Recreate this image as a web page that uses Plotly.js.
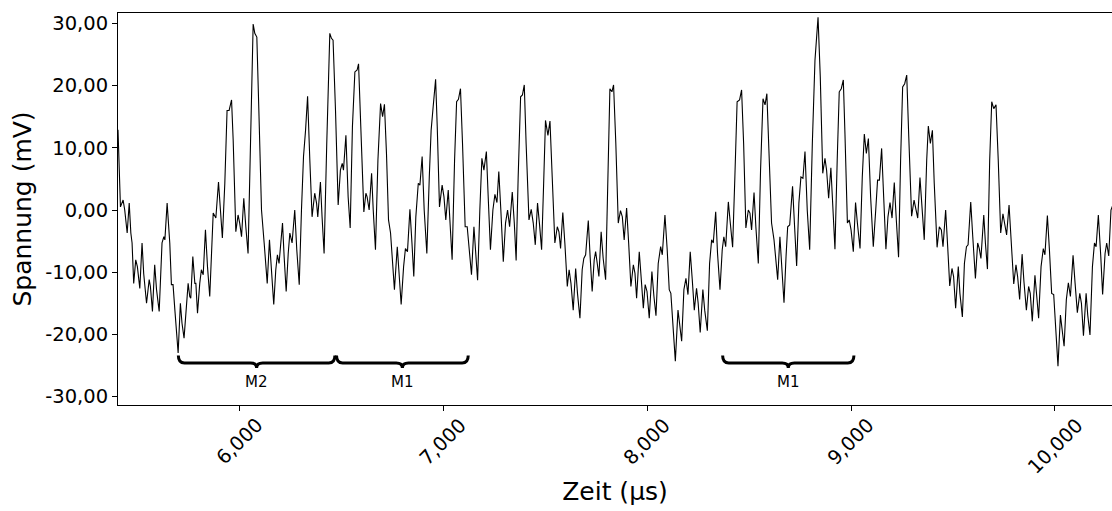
<!DOCTYPE html>
<html>
<head>
<meta charset="utf-8">
<script src="https://cdn.plot.ly/plotly-3.0.1.min.js"></script>
<style>
  html, body { margin: 0; padding: 0; background: #ffffff; }
  #chart { width: 1112px; height: 511px; }
</style>
</head>
<body>
<div id="chart"></div>
<script>
// Measured signal: time (µs) and voltage (mV)
const timeUs = [
  5404, 5416, 5429, 5437, 5449, 5459, 5467, 5473, 5481, 5491, 5499, 5511, 5522, 5530, 5544, 5557,
  5563, 5573, 5584, 5593, 5606, 5620, 5629, 5634, 5645, 5658, 5666, 5674, 5683, 5699, 5710, 5718,
  5728, 5740, 5748, 5756, 5761, 5771, 5781, 5786, 5794, 5805, 5813, 5822, 5833, 5843, 5854, 5871,
  5884, 5897, 5907, 5916, 5928, 5939, 5949, 5961, 5969, 5982, 5993, 6001, 6010, 6021, 6031, 6042,
  6054, 6067, 6075, 6085, 6095, 6108, 6121, 6136, 6147, 6157, 6168, 6178, 6186, 6194, 6201, 6211,
  6219, 6229, 6239, 6247, 6258, 6271, 6281, 6293, 6304, 6314, 6324, 6334, 6345, 6356, 6369, 6378,
  6384, 6397, 6405, 6415, 6428, 6443, 6451, 6459, 6471, 6484, 6495, 6504, 6510, 6522, 6533, 6543,
  6554, 6566, 6577, 6584, 6595, 6610, 6620, 6626, 6636, 6648, 6656, 6667, 6679, 6692, 6702, 6711,
  6721, 6731, 6741, 6751, 6760, 6774, 6783, 6793, 6805, 6814, 6824, 6836, 6846, 6855, 6865, 6877,
  6885, 6896, 6906, 6919, 6931, 6940, 6950, 6962, 6970, 6981, 6994, 7003, 7012, 7024, 7032, 7043,
  7055, 7065, 7074, 7084, 7094, 7107, 7117, 7127, 7138, 7150, 7158, 7168, 7179, 7189, 7199, 7211,
  7220, 7231, 7243, 7253, 7263, 7272, 7282, 7294, 7305, 7315, 7325, 7338, 7348, 7357, 7367, 7379,
  7388, 7397, 7406, 7420, 7431, 7441, 7451, 7462, 7472, 7482, 7492, 7501, 7513, 7523, 7534, 7547,
  7559, 7567, 7575, 7586, 7596, 7608, 7617, 7626, 7637, 7649, 7658, 7670, 7681, 7689, 7698, 7711,
  7720, 7730, 7740, 7747, 7755, 7763, 7774, 7784, 7796, 7809, 7817, 7827, 7835, 7846, 7858, 7869,
  7878, 7887, 7899, 7909, 7920, 7932, 7940, 7948, 7961, 7971, 7981, 7990, 7999, 8010, 8023, 8033,
  8043, 8054, 8066, 8074, 8087, 8098, 8108, 8116, 8128, 8138, 8151, 8161, 8169, 8180, 8190, 8200,
  8211, 8221, 8231, 8242, 8250, 8260, 8273, 8282, 8295, 8306, 8316, 8324, 8336, 8345, 8357, 8368,
  8376, 8385, 8398, 8407, 8419, 8430, 8441, 8453, 8463, 8473, 8484, 8496, 8504, 8512, 8524, 8533,
  8545, 8556, 8568, 8578, 8587, 8597, 8610, 8622, 8630, 8640, 8651, 8661, 8671, 8681, 8689, 8699,
  8713, 8723, 8733, 8744, 8754, 8764, 8774, 8785, 8797, 8810, 8823, 8838, 8849, 8861, 8872, 8880,
  8890, 8901, 8911, 8921, 8932, 8942, 8952, 8962, 8970, 8982, 8991, 9000, 9011, 9022, 9031, 9044,
  9055, 9065, 9075, 9085, 9096, 9109, 9121, 9130, 9139, 9150, 9160, 9171, 9181, 9191, 9201, 9212,
  9222, 9233, 9243, 9253, 9263, 9273, 9283, 9297, 9309, 9317, 9327, 9338, 9348, 9359, 9371, 9379,
  9389, 9399, 9408, 9422, 9433, 9443, 9451, 9464, 9474, 9484, 9495, 9503, 9513, 9526, 9534, 9546,
  9556, 9566, 9574, 9587, 9597, 9610, 9621, 9629, 9637, 9651, 9659, 9669, 9680, 9690, 9700, 9711,
  9722, 9734, 9745, 9755, 9763, 9775, 9785, 9798, 9809, 9817, 9827, 9839, 9848, 9860, 9871, 9879,
  9889, 9902, 9911, 9920, 9932, 9943, 9951, 9963, 9973, 9984, 9994, 10004, 10015, 10027, 10037, 10045,
  10056, 10066, 10076, 10089, 10099, 10110, 10122, 10130, 10140, 10153, 10161, 10172, 10184, 10194, 10202, 10213,
  10225, 10234, 10246, 10254, 10264, 10275, 10282
];
const voltageMv = [
  12.9, 0.5, 1.6, 0.0, -3.7, 1.1, -3.7, -5.3, -11.8, -8.0, -9.1, -12.6, -5.3, -10.2, -15.0, -11.2,
  -12.3, -16.3, -8.8, -12.8, -16.3, -5.3, -4.3, -4.8, 1.1, -5.3, -12.0, -12.0, -16.1, -23.0, -15.0, -18.2,
  -20.6, -15.0, -11.8, -13.9, -14.2, -7.5, -11.8, -11.8, -16.6, -11.8, -9.6, -10.4, -3.2, -9.1, -13.9, -0.5,
  -1.3, 4.5, 0.5, -4.5, 4.3, 16.0, 16.0, 17.7, 11.2, -3.5, -0.8, -2.1, -4.3, 1.9, -2.7, -7.0,
  10.7, 29.9, 28.4, 27.8, 16.0, 0.0, -5.3, -11.8, -4.8, -10.2, -15.2, -9.6, -7.2, -8.6, -6.4, -2.1,
  -7.5, -13.1, -7.0, -3.7, -5.3, 0.0, -6.4, -12.0, 0.0, 8.6, 12.8, 18.3, 8.0, -1.1, 2.7, 1.1,
  -1.1, 4.5, -1.1, -7.0, 10.7, 28.4, 27.6, 27.3, 16.0, 0.8, 6.4, 7.5, 6.4, 12.0, 2.1, -2.9,
  13.4, 22.2, 22.5, 23.5, 13.4, -0.3, 2.7, 2.1, 0.0, 5.9, 0.0, -6.4, 8.0, 17.1, 15.0, 17.0,
  9.1, -1.6, -3.7, -8.0, -12.8, -5.9, -10.7, -15.2, -9.1, -6.2, -6.7, 0.1, -5.3, -10.7, -1.1, 4.3,
  4.0, 8.6, 0.0, -7.0, 5.3, 12.8, 16.6, 21.0, 13.4, 0.5, 4.0, 2.1, -1.6, 3.2, -1.6, -8.0,
  8.0, 17.4, 17.8, 19.5, 10.7, -2.7, -2.7, -6.4, -10.4, -2.7, -7.5, -11.3, 0.0, 8.3, 6.4, 9.4,
  2.1, -6.4, 0.0, 2.5, 1.2, 6.2, 0.0, -8.3, -2.1, 0.0, -2.7, 2.9, -2.1, -8.1, 5.3, 18.2,
  18.5, 20.1, 10.7, -1.6, 0.1, -2.1, -5.6, 1.1, -2.4, -6.4, 4.3, 14.4, 12.0, 14.3, 5.3, -5.3,
  -2.7, -3.5, -6.2, -0.4, -5.3, -12.3, -9.6, -11.8, -16.1, -9.4, -13.4, -17.4, -9.6, -7.8, -7.2, -1.7,
  -7.5, -13.1, -8.0, -6.7, -8.6, -10.7, -3.5, -7.8, -11.2, 5.3, 19.5, 19.0, 20.1, 10.7, -2.1, -0.1,
  -1.1, -4.8, 0.3, -5.3, -12.3, -8.8, -10.2, -14.2, -6.7, -11.2, -15.8, -12.0, -13.1, -17.4, -9.9, -13.9,
  -17.0, -8.6, -5.9, -7.2, -0.8, -6.4, -12.8, -13.4, -18.7, -24.3, -16.1, -18.7, -21.1, -12.8, -11.0, -13.6,
  -6.7, -11.2, -16.1, -12.6, -15.0, -19.7, -12.8, -16.1, -19.4, -8.6, -4.8, -5.3, -0.3, -7.0, -12.8, -6.4,
  -4.3, -5.9, 1.3, -1.9, -6.0, 5.3, 17.4, 17.7, 19.3, 10.7, -2.9, 0.0, -0.5, -3.2, 2.8, -2.7,
  -8.6, 6.4, 17.9, 16.9, 18.7, 9.6, -2.1, -4.8, -8.0, -11.2, -4.3, -10.2, -14.9, -7.5, -2.7, -2.4,
  3.8, -2.7, -9.0, 1.1, 5.3, 5.1, 9.4, 0.0, -6.4, 10.7, 24.1, 31.0, 21.4, 5.9, 8.3, 6.4,
  1.9, 6.8, 0.0, -6.3, 8.0, 19.0, 19.5, 20.9, 12.3, -2.1, -1.6, -3.2, -6.7, 1.2, -2.1, -6.2,
  5.3, 12.2, 9.1, 11.5, 2.1, -5.9, 0.0, 4.8, 4.8, 9.9, 2.1, -6.3, -1.1, 1.2, -1.3, 4.4,
  -1.6, -7.6, 8.0, 19.8, 20.3, 21.7, 11.8, -1.0, 1.6, 0.5, -1.3, 5.2, 0.0, -4.8, 8.0, 13.5,
  10.7, 12.8, 4.3, -6.0, -2.7, -3.2, -5.9, 0.0, -5.9, -12.2, -9.4, -10.7, -15.8, -9.1, -13.4, -17.2,
  -8.6, -5.9, -5.6, 1.3, -4.3, -11.0, -5.3, -6.2, -7.8, -0.8, -5.3, -9.5, 8.0, 17.4, 16.3, 16.9,
  8.0, -3.7, -0.6, -2.7, -4.0, 0.8, -4.8, -11.9, -8.8, -10.7, -14.4, -7.1, -11.5, -16.1, -12.3, -13.4,
  -17.9, -10.5, -13.9, -17.4, -9.1, -6.2, -7.2, -0.9, -6.4, -13.4, -13.6, -18.7, -25.1, -16.9, -19.5, -21.9,
  -14.4, -11.7, -13.9, -7.3, -11.8, -16.5, -13.4, -15.0, -20.2, -13.4, -16.9, -20.1, -9.1, -5.3, -5.9, -0.8,
  -7.5, -13.6, -7.0, -5.3, -7.4, 0.0, 0.6
];

// Axis ticks
const xTickVals = [6000, 7000, 8000, 9000, 10000];
const xTickText = ['6,000', '7,000', '8,000', '9,000', '10,000'];
const yTickVals = [-30, -20, -10, 0, 10, 20, 30];
const yTickText = ['-30,00', '-20,00', '-10,00', '0,00', '10,00', '20,00', '30,00'];

// Marked segments (µs) shown with braces under the trace
const braceStart = [5700, 6476, 8370];
const braceEnd = [6468, 7122, 9014];
const braceLabel = ['M2', 'M1', 'M1'];

const FONT = 'DejaVu Sans, sans-serif';

// Brace geometry (data units)
const yTop = -23.4, yLine = -24.6, yTip = -25.4, curl = 30;

function bracePath(x0, x1) {
  const xc = (x0 + x1) / 2;
  return `M${x0},${yTop} Q${x0},${yLine} ${x0 + curl},${yLine} ` +
         `L${xc - curl},${yLine} Q${xc},${yLine} ${xc},${yTip} ` +
         `Q${xc},${yLine} ${xc + curl},${yLine} ` +
         `L${x1 - curl},${yLine} Q${x1},${yLine} ${x1},${yTop}`;
}

const shapes = braceStart.map((s, i) => ({
  type: 'path',
  xref: 'x', yref: 'y',
  path: bracePath(s, braceEnd[i]),
  line: { color: '#000000', width: 3 }
}));

const annotations = braceStart.map((s, i) => ({
  x: (s + braceEnd[i]) / 2, y: -27.7,
  xref: 'x', yref: 'y',
  text: braceLabel[i], showarrow: false,
  xanchor: 'center', yanchor: 'middle',
  font: { family: FONT, size: 15, color: '#000000' }
}));

// Rotated x tick labels, centred under each tick
xTickVals.forEach((v, i) => {
  annotations.push({
    x: v, y: 0, xref: 'x', yref: 'paper',
    text: xTickText[i], showarrow: false,
    textangle: -45,
    xanchor: 'center', yanchor: 'top', yshift: -6,
    font: { family: FONT, size: 19.5, color: '#000000' }
  });
});

const trace = {
  x: timeUs, y: voltageMv,
  type: 'scatter', mode: 'lines',
  line: { color: '#000000', width: 1.1 },
  hoverinfo: 'skip'
};

const layout = {
  width: 1112, height: 511,
  margin: { l: 118, r: 0, t: 13, b: 106 },
  paper_bgcolor: '#ffffff', plot_bgcolor: '#ffffff',
  showlegend: false,
  font: { family: FONT, color: '#000000' },
  xaxis: {
    range: [5404, 10280],
    tickvals: xTickVals, showticklabels: false,
    ticks: 'outside', ticklen: 5, tickcolor: '#000000', tickwidth: 1,
    showline: true, linecolor: '#000000', linewidth: 1, mirror: true,
    showgrid: false, zeroline: false,
    title: { text: 'Zeit (µs)', font: { family: FONT, size: 25, color: '#000000' }, standoff: 72 }
  },
  yaxis: {
    range: [-31.35, 31.67],
    tickvals: yTickVals, ticktext: yTickText,
    ticks: 'outside', ticklen: 5, tickcolor: '#000000', tickwidth: 1,
    tickfont: { family: FONT, size: 19.5, color: '#000000' },
    showline: true, linecolor: '#000000', linewidth: 1,
    showgrid: false, zeroline: false,
    title: { text: 'Spannung (mV)', font: { family: FONT, size: 25, color: '#000000' }, standoff: 6 }
  },
  shapes: shapes,
  annotations: annotations
};

Plotly.newPlot('chart', [trace], layout, { staticPlot: true, displayModeBar: false });
</script>
</body>
</html>
